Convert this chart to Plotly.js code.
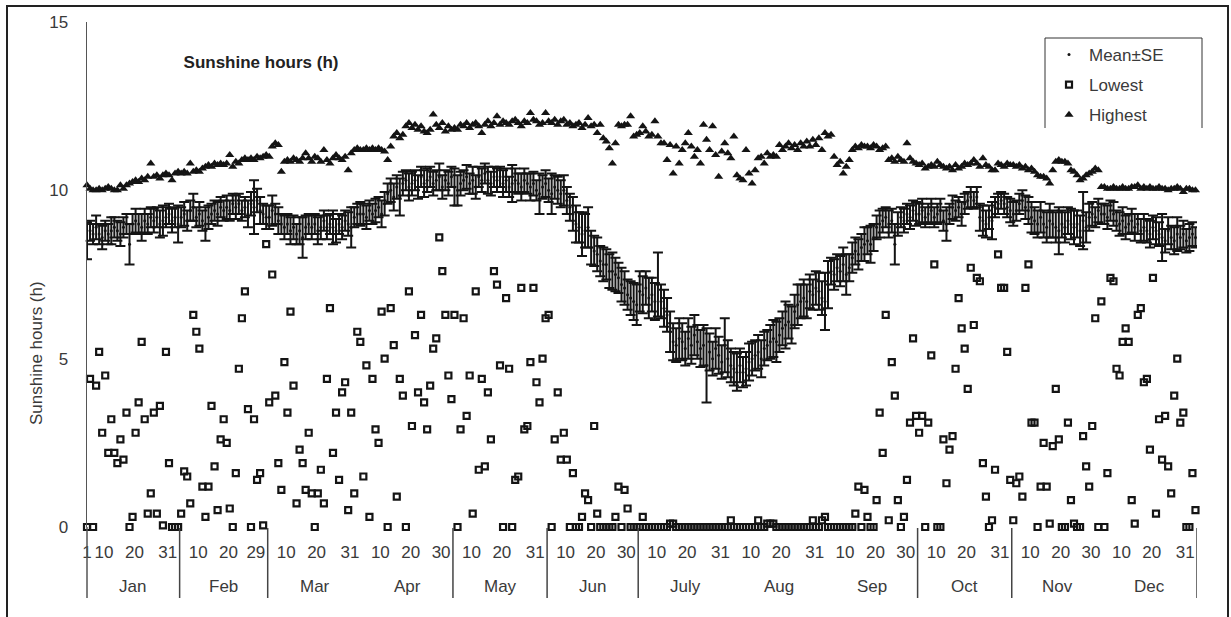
<!DOCTYPE html>
<html>
<head>
<meta charset="utf-8">
<script src="https://cdn.plot.ly/plotly-3.0.1.min.js"></script>
<style>html,body{margin:0;padding:0;background:#fff;}#chart{width:1231px;height:617px;}</style>
</head>
<body>
<div id="chart"></div>
<script>
// ---------------- DATA ----------------
const months = ['Jan','Feb','Mar','Apr','May','Jun','July','Aug','Sep','Oct','Nov','Dec'];
const monthDays = [31,29,31,30,31,30,31,31,30,31,30,31];
const separatorMonths = ['Jan','Feb','Apr','May','Jun','Sep','Oct','Dec'];
const tickDays = [1,10,20,31, 41,51,60, 70,80,91, 101,111,121, 131,141,152, 162,172,182, 192,202,213, 223,233,244, 254,264,274, 284,294,305, 315,325,335, 345,355,366];
const tickLabels = ['1','10','20','31','10','20','29','10','20','31','10','20','30','10','20','31','10','20','30','10','20','31','10','20','31','10','20','30','10','20','31','10','20','30','10','20','31'];

// Highest daily sunshine hours (h), Jan 1 .. Dec 31
const highest = [
 // Jan
 10.15,10.05,10.0,10.0,10.05,10.0,10.05,10.1,10.05,10.0, 10.0,10.15,10.05,10.15,10.2,10.25,10.3,10.25,10.35,10.3, 10.4,10.8,10.4,10.45,10.35,10.45,10.5,10.45,10.3,10.5, 10.55,
 // Feb
 10.5,10.55,10.5,10.8,10.55,10.6,10.55,10.65,10.7,10.75, 10.7,10.8,10.75,10.8,10.75,10.8,11.05,10.7,10.85,10.8, 10.9,10.95,10.9,10.95,10.9,11.0,10.95,11.0,11.05,
 // Mar
 11.0,11.3,11.4,11.35,10.55,10.85,10.9,10.85,10.95,10.9, 10.85,10.95,11.1,10.95,10.85,11.0,10.95,10.85,11.2,10.9, 10.8,10.95,11.05,10.95,10.9,11.0,10.6,11.1,11.2,11.25, 11.2,
 // Apr
 11.2,11.25,11.2,11.25,11.2,11.25,11.2,11.15,10.9,11.3, 11.6,11.7,11.55,11.65,11.9,12.0,11.85,11.95,11.8,11.9, 11.75,11.7,11.8,12.25,11.95,11.85,12.0,11.75,11.9,11.8,
 // May
 11.85,11.8,11.95,11.9,12.0,11.85,11.95,12.0,11.9,11.7, 11.95,12.05,11.9,12.0,12.2,11.95,12.05,12.0,11.95,12.05, 12.1,12.0,11.9,12.05,12.0,12.3,12.1,12.05,11.95,12.0, 12.3,
 // Jun
 12.05,12.0,12.1,11.95,12.05,12.1,11.95,12.0,11.9,11.95, 12.0,11.85,11.95,12.15,11.9,11.95,11.7,11.95,11.55,11.45, 11.25,10.8,11.4,11.95,11.9,11.95,11.95,12.2,11.6,11.65,
 // Jul
 11.7,11.9,11.75,11.6,11.65,12.05,11.6,11.4,11.4,10.9, 11.35,10.5,11.3,10.8,11.2,11.4,11.7,11.3,11.0,11.2, 10.8,11.95,11.5,11.2,11.9,11.05,10.4,11.15,11.4,11.1, 10.95,
 // Aug
 11.6,10.45,10.35,10.3,11.2,10.5,10.2,10.6,10.95,11.0, 10.8,11.1,11.0,11.05,11.0,11.35,11.2,11.3,11.4,11.25, 11.35,11.2,11.4,11.3,11.45,11.3,11.5,11.35,11.55,11.2, 11.7,
 // Sep
 11.6,11.65,11.0,10.75,10.85,10.5,10.7,10.9,11.2,11.3, 11.25,11.35,11.3,11.3,11.25,11.35,11.3,11.2,11.25,11.3, 10.9,10.95,10.85,11.0,10.9,10.85,11.4,10.95,10.85,10.8,
 // Oct
 10.75,10.8,10.65,10.7,10.75,10.7,10.85,10.75,10.7,10.65, 10.7,10.6,10.75,10.65,10.7,10.8,10.75,10.8,10.9,10.8, 10.7,10.95,10.75,10.7,10.6,10.6,10.8,10.75,10.7,10.8, 10.75,
 // Nov
 10.75,10.7,10.75,10.65,10.7,10.6,10.65,10.55,10.45,10.4, 10.4,10.35,10.2,10.6,10.85,10.9,10.85,10.85,10.8,10.6, 10.55,10.45,10.3,10.35,10.45,10.5,10.55,10.65,10.6,10.1,
 // Dec
 10.1,10.05,10.05,10.1,10.05,10.05,10.1,10.05,10.05,10.1, 10.1,10.15,10.05,10.1,10.05,10.1,10.05,10.05,10.1,10.05, 10.05,10.0,10.05,10.05,10.1,10.05,9.95,10.05,10.05,10.0, 10.0
];

// Mean daily sunshine hours (h)
const meanHours = [
 // Jan
 8.5,8.8,8.7,8.9,8.7,8.6,8.8,8.7,8.8,8.9, 8.8,8.7,8.9,9.0,8.4,9.0,9.1,9.0,8.9,9.1, 9.0,9.2,9.1,9.2,9.0,9.1,9.2,9.3,9.1,9.2, 9.0,
 // Feb
 9.2,9.3,9.1,9.4,9.5,9.2,9.3,9.1,9.0,9.2, 9.3,9.4,9.3,9.5,9.4,9.5,9.4,9.6,9.5,9.6, 9.4,9.5,9.3,9.6,9.5,9.7,9.4,9.3,9.2,
 // Mar
 9.2,9.4,9.3,9.1,9.0,8.9,9.0,8.8,8.9,8.7, 8.8,8.6,8.9,9.0,8.9,9.0,8.8,8.9,9.1,8.9, 9.0,8.9,8.8,9.0,8.9,9.1,9.0,8.9,9.2,9.3, 9.3,
 // Apr
 9.3,9.2,9.4,9.3,9.4,9.5,9.3,9.6,9.9,10.0, 9.8,10.1,9.8,10.2,10.3,10.1,10.2,10.3,10.1,10.4, 10.2,10.3,10.4,10.2,10.3,10.4,10.1,10.3,10.2,10.4,
 // May
 10.1,10.0,10.2,10.3,10.4,10.2,10.3,10.1,10.4,10.3, 10.5,10.3,10.2,10.4,10.3,10.4,10.2,10.3,10.1,10.2, 10.3,10.2,10.1,10.3,10.2,10.1,10.2,10.0,9.9,10.1, 10.2,
 // Jun
 10.0,9.9,10.1,10.0,9.9,10.0,9.7,9.5,9.3,9.0, 8.9,8.7,8.8,8.9,8.3,8.2,8.1,7.9,7.8,7.8, 7.6,7.6,7.5,7.4,7.2,7.1,6.9,6.8,6.7,6.6,
 // Jul
 7.0,6.9,7.1,6.8,6.9,6.7,7.2,6.7,6.5,6.3, 5.8,5.5,5.4,5.6,5.5,5.3,5.6,5.4,5.7,5.5, 5.3,5.4,4.8,5.2,5.0,5.3,5.1,4.9,5.4,5.0, 4.8,
 // Aug
 4.7,4.6,4.8,4.6,4.7,4.9,5.0,5.1,5.2,5.0, 5.3,5.4,5.5,5.6,5.5,5.7,5.9,6.0,6.1,6.0, 6.4,6.6,6.7,6.8,6.7,7.0,6.9,7.1,7.0,6.8, 6.7,
 // Sep
 7.2,7.6,7.5,7.7,7.6,7.8,7.5,7.7,8.0,8.2, 8.1,8.3,8.4,8.5,8.4,8.6,8.9,9.0,9.1,9.2, 9.0,9.1,8.4,9.0,9.2,9.1,9.3,9.2,9.4,9.3,
 // Oct
 9.3,9.4,9.2,9.3,9.4,9.2,9.3,9.4,9.1,9.0, 9.3,9.5,9.4,9.5,9.3,9.6,9.7,9.8,9.7,9.8, 9.2,9.1,9.0,9.2,9.1,9.5,9.6,9.7,9.6,9.5, 9.4,
 // Nov
 9.3,9.4,9.6,9.7,9.5,9.4,9.2,9.1,9.0,9.2, 9.0,8.9,9.1,9.0,8.9,8.8,9.0,8.9,9.1,9.0, 8.9,9.0,8.8,9.1,8.9,9.2,9.3,9.2,9.4,9.3,
 // Dec
 9.3,9.2,9.4,9.3,9.1,9.0,9.1,8.9,9.0,9.1, 8.9,9.0,8.8,8.9,8.8,8.7,8.9,8.8,8.7,8.6, 8.5,8.8,8.6,8.5,8.7,8.6,8.7,8.5,8.6,8.7, 8.6
];

// Standard error of the mean (h)
const meanSE = [
 // Jan
 0.55,0.3,0.3,0.35,0.3,0.35,0.3,0.3,0.4,0.3, 0.3,0.35,0.3,0.3,0.6,0.3,0.35,0.3,0.4,0.35, 0.3,0.3,0.35,0.3,0.4,0.45,0.3,0.3,0.35,0.3, 0.55,
 // Feb
 0.3,0.35,0.3,0.3,0.4,0.3,0.35,0.3,0.5,0.35, 0.3,0.3,0.35,0.3,0.3,0.35,0.3,0.3,0.35,0.3, 0.3,0.3,0.4,0.35,0.8,0.35,0.4,0.3,0.35,
 // Mar
 0.35,0.45,0.3,0.4,0.3,0.35,0.3,0.4,0.35,0.3, 0.4,0.6,0.35,0.3,0.35,0.3,0.4,0.35,0.3,0.35, 0.3,0.5,0.35,0.3,0.35,0.3,0.35,0.6,0.3,0.3, 0.35,
 // Apr
 0.3,0.35,0.3,0.3,0.35,0.3,0.4,0.35,0.3,0.35, 0.4,0.35,0.55,0.35,0.3,0.4,0.35,0.3,0.35,0.3, 0.4,0.35,0.3,0.35,0.3,0.4,0.35,0.3,0.35,0.3,
 // May
 0.55,0.45,0.35,0.3,0.35,0.3,0.4,0.35,0.3,0.35, 0.3,0.4,0.35,0.3,0.35,0.3,0.4,0.35,0.3,0.55, 0.35,0.3,0.4,0.35,0.3,0.4,0.35,0.3,0.6,0.35, 0.4,
 // Jun
 0.35,0.6,0.35,0.4,0.4,0.45,0.4,0.4,0.5,0.55, 0.45,0.65,0.5,0.6,0.5,0.45,0.5,0.45,0.5,0.45, 0.5,0.55,0.5,0.45,0.5,0.5,0.45,0.5,0.55,0.6,
 // Jul
 0.6,0.55,0.5,0.6,0.5,0.55,0.95,0.5,0.55,0.5, 0.6,0.55,0.5,0.6,0.55,0.5,0.6,0.55,0.6,0.5, 0.55,0.6,1.1,0.55,0.5,0.6,0.55,0.5,0.8,0.55, 0.5,
 // Aug
 0.5,0.55,0.5,0.45,0.5,0.55,0.5,0.45,0.5,0.55, 0.5,0.45,0.5,0.55,0.6,0.5,0.5,0.7,0.5,0.55, 0.5,0.6,0.5,0.55,0.5,0.5,0.45,0.5,0.55,0.5, 0.85,
 // Sep
 0.7,0.4,0.45,0.4,0.45,0.5,0.6,0.4,0.45,0.4, 0.45,0.4,0.5,0.4,0.55,0.4,0.35,0.4,0.35,0.3, 0.4,0.35,0.6,0.35,0.3,0.35,0.3,0.35,0.3,0.35,
 // Oct
 0.3,0.35,0.3,0.3,0.35,0.3,0.3,0.35,0.3,0.5, 0.3,0.35,0.3,0.3,0.35,0.3,0.25,0.3,0.25,0.3, 0.4,0.45,0.4,0.35,0.55,0.3,0.3,0.25,0.3,0.3, 0.35,
 // Nov
 0.35,0.3,0.3,0.3,0.35,0.4,0.45,0.4,0.4,0.45, 0.4,0.45,0.5,0.4,0.45,0.7,0.4,0.45,0.4,0.45, 0.5,0.4,0.45,0.85,0.45,0.4,0.35,0.3,0.35,0.3,
 // Dec
 0.3,0.35,0.3,0.35,0.3,0.35,0.4,0.35,0.3,0.35, 0.4,0.3,0.35,0.4,0.35,0.4,0.35,0.4,0.35,0.7, 0.35,0.4,0.35,0.4,0.5,0.35,0.4,0.35,0.4,0.35, 0.3
];

// Lowest daily sunshine hours (h)
const lowest = [
 // Jan
 0,4.4,0,4.2,5.2,2.8,4.5,2.2,3.2,2.2, 1.9,2.6,2.0,3.4,0,0.3,2.8,3.7,5.5,3.2, 0.4,1.0,3.4,0.4,3.6,0.05,5.2,1.9,0,0, 0,
 // Feb
 0.4,1.65,1.5,0.7,6.3,5.8,5.3,1.2,0.3,1.2, 3.6,1.8,0.5,2.6,3.2,2.5,0.55,0,1.6,4.7, 6.2,7.0,3.5,0,3.2,1.4,1.6,0.05,8.4,
 // Mar
 3.7,7.5,3.9,1.9,1.1,4.9,3.4,6.4,4.2,0.7, 2.3,1.9,1.1,2.8,1.0,0,1.0,1.7,0.7,4.4, 6.5,2.2,3.4,1.4,4.0,4.3,0.5,3.4,1.0,5.8, 5.5,
 // Apr
 1.5,4.8,0.3,4.4,2.9,2.5,6.4,5.0,0,6.5, 5.4,0.9,4.4,3.9,0,7.0,3.0,5.7,4.0,6.3, 3.7,2.9,4.2,5.3,5.6,8.6,7.6,6.3,4.5,3.8,
 // May
 6.3,0,2.9,6.2,3.3,4.5,0.4,7.0,1.7,4.4, 1.8,4.0,2.6,7.6,7.2,4.8,0,6.8,4.7,0, 1.4,1.5,7.1,2.9,3.0,4.9,7.1,4.3,3.7,5.0, 6.2,
 // Jun
 6.3,0,2.6,4.0,2.0,2.8,2.0,0,1.6,0, 0,0.3,1.0,0.8,0,3.0,0.4,0,0,0, 0,0,0.3,1.2,0,1.1,0.55,0,0,0,
 // Jul
 0,0.3,0,0,0,0,0,0,0,0, 0.1,0.1,0,0,0,0,0,0,0,0, 0,0,0,0,0,0,0,0,0,0, 0.2,
 // Aug
 0,0,0,0,0,0,0,0,0.2,0, 0,0.1,0.1,0.1,0,0,0,0,0,0, 0,0,0,0,0,0,0.2,0,0,0.2, 0.3,
 // Sep
 0,0,0,0,0,0,0,0,0,0.4, 1.2,0,1.1,0.3,0,0,0.8,3.4,2.2,6.3, 0.2,4.9,3.9,0.8,0,0.3,1.4,3.1,5.6,3.3,
 // Oct
 2.8,3.3,0,3.1,5.1,7.8,0,0,2.6,1.3, 2.3,2.7,4.7,6.8,5.9,5.3,4.1,7.7,6.0,7.4, 7.3,1.9,0.9,0,0.2,1.7,8.1,7.1,7.1,5.2, 1.4,
 // Nov
 0.2,1.3,1.5,0.9,7.1,7.8,3.1,3.1,0,1.2, 2.5,1.2,0.1,2.4,4.1,2.6,0,0,3.1,0.8, 0.1,0,0,2.7,1.8,1.2,3.0,6.2,0,6.7,
 // Dec
 0,1.6,7.4,7.3,4.7,4.5,5.5,5.9,5.5,0.8, 0.1,6.3,6.5,4.3,4.4,2.3,7.4,0.4,3.2,2.0, 3.3,1.8,1.0,3.9,5.0,3.1,3.4,0,0,1.6, 0.5
];

// ---------------- BUILD ----------------
const days = highest.map((_, i) => i + 1);
const FONT = 'Liberation Sans, Arial, Helvetica, sans-serif';
const INK = '#141414';
const TXT = '#3a3a3a';

const monthEnds = [];
monthDays.reduce((acc, n) => { monthEnds.push(acc + n); return acc + n; }, 0);
const monthMids = monthEnds.map((e, i) => e - monthDays[i] / 2 + 0.5);

const traces = [
  {
    type: 'scatter', mode: 'markers', name: 'Mean±SE', legendgroup: 'm',
    x: days, y: meanHours, cliponaxis: false,
    marker: { symbol: 'circle', size: 3, color: INK },
    error_y: { type: 'data', array: meanSE, visible: true, color: INK, thickness: 2, width: 5 }
  },
  {
    type: 'scatter', mode: 'markers', name: 'Lowest', legendgroup: 'l',
    x: days, y: lowest, cliponaxis: false,
    marker: { symbol: 'square-open', size: 6, color: INK, line: { width: 2.2, color: INK } }
  },
  {
    type: 'scatter', mode: 'markers', name: 'Highest', legendgroup: 'h',
    x: days, y: highest, cliponaxis: false,
    marker: { symbol: 'triangle-up', size: 8, color: INK }
  }
];

const L = 87, R = 1197, T = 22, B = 527;
const W = R - L, H = B - T;
const px2paperX = p => (p - L) / W;
const px2paperY = p => (B - p) / H;

const shapes = [];
separatorMonths.forEach(m => {
  const idx = months.indexOf(m);
  shapes.push({ type: 'line', xref: 'x', yref: 'paper', x0: monthEnds[idx] + 0.5, x1: monthEnds[idx] + 0.5,
    y0: px2paperY(528), y1: px2paperY(598), line: { color: '#444', width: 1.5 } });
});
shapes.push({ type: 'line', xref: 'paper', yref: 'paper', x0: 0, x1: 0, y0: 0, y1: px2paperY(598), line: { color: '#555', width: 1.5 } });
shapes.push({ type: 'rect', xref: 'paper', yref: 'paper', x0: px2paperX(7), x1: px2paperX(1228), y0: px2paperY(640), y1: px2paperY(6),
  line: { color: '#222', width: 2 }, fillcolor: 'rgba(0,0,0,0)' });
const lgL = px2paperX(1045), lgR = px2paperX(1202), lgT = px2paperY(38), lgB = px2paperY(128);
shapes.push({ type: 'line', xref: 'paper', yref: 'paper', x0: lgL, x1: lgR, y0: lgT, y1: lgT, line: { color: '#333', width: 1 } });
shapes.push({ type: 'line', xref: 'paper', yref: 'paper', x0: lgL, x1: lgL, y0: lgT, y1: lgB, line: { color: '#333', width: 1 } });
shapes.push({ type: 'line', xref: 'paper', yref: 'paper', x0: lgR, x1: lgR, y0: lgT, y1: lgB, line: { color: '#333', width: 1 } });

const annotations = months.map((m, i) => ({
  text: m, xref: 'x', yref: 'paper', x: monthMids[i], y: px2paperY(586),
  showarrow: false, xanchor: 'center', yanchor: 'middle', font: { family: FONT, size: 17, color: TXT }
}));
annotations.push({
  text: 'Sunshine hours (h)', textangle: -90, xref: 'paper', yref: 'paper',
  x: px2paperX(36), y: px2paperY(353), showarrow: false, xanchor: 'center', yanchor: 'middle',
  font: { family: FONT, size: 17, color: TXT }
});

const layout = {
  width: 1231, height: 617,
  paper_bgcolor: '#fff', plot_bgcolor: '#fff',
  margin: { l: L, r: 1231 - R, t: T, b: 617 - B, pad: 0 },
  title: { text: '<b>Sunshine hours (h)</b>', xref: 'paper', x: px2paperX(261), xanchor: 'center',
           yref: 'container', y: 1 - 62 / 617, yanchor: 'middle', font: { family: FONT, size: 17, color: '#222' } },
  showlegend: true,
  legend: { x: px2paperX(1049), xanchor: 'left', y: px2paperY(37), yanchor: 'top', bgcolor: 'rgba(0,0,0,0)',
            borderwidth: 0, font: { family: FONT, size: 17, color: TXT }, tracegroupgap: 5, itemclick: false },
  xaxis: {
    range: [1, 366.5], showgrid: false, zeroline: false, showline: false, ticks: '',
    tickmode: 'array', tickvals: tickDays.map((d, i) => i === 0 ? d : d - 3.4), ticktext: tickLabels,
    tickfont: { family: FONT, size: 17, color: TXT }, ticklabelstandoff: 13
  },
  yaxis: {
    range: [0, 15], tickvals: [0, 5, 10, 15], showgrid: false, zeroline: false,
    showline: true, linecolor: '#555', linewidth: 1.5, ticks: '',
    tickfont: { family: FONT, size: 17, color: TXT }, ticklabelstandoff: 14
  },
  shapes: shapes,
  annotations: annotations
};

Plotly.newPlot('chart', traces, layout, { staticPlot: true, displayModeBar: false });
</script>
</body>
</html>
